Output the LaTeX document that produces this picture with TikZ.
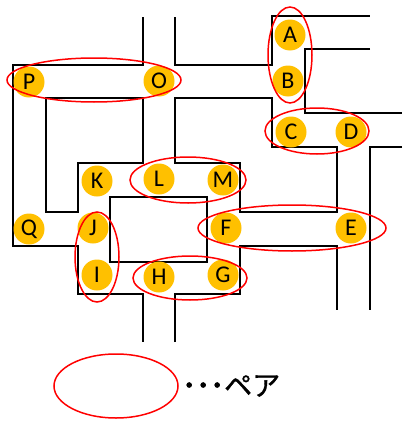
\documentclass[tikz,border=0pt]{standalone}
\usepackage{fontspec}
\setmainfont{Carlito}
\newfontfamily\jpfont[FakeBold=1.2]{Noto Sans CJK JP}
\newfontfamily\jpdots[FakeBold=3]{Noto Sans CJK JP}
\usetikzlibrary{shapes.geometric}
\definecolor{gold}{HTML}{FFC000}
\definecolor{pairred}{HTML}{FF0000}
\begin{document}
\begin{tikzpicture}[x=1pt,y=-1pt,
  wall/.style={line width=1.6pt, black, line join=miter},
  spot/.style={circle, fill=gold, minimum size=31pt, inner sep=0pt,
    font=\fontsize{24}{24}\selectfont},
  pair/.style={draw=pairred, line width=1.5pt}]
\useasboundingbox (0,0) rectangle (402,423);

% corridor walls
\draw[wall] (143,17) -- (143,65) -- (13,65) -- (13,246) -- (78,246) -- (78,294) -- (143,294) -- (143,342);
\draw[wall] (46,98) -- (143,98) -- (143,163) -- (78,163) -- (78,212) -- (46,212) -- cycle;
\draw[wall] (175,17) -- (175,65) -- (272,65) -- (272,16) -- (370,16);
\draw[wall] (175,98) -- (272,98) -- (272,147) -- (337,147) -- (337,212) -- (240,212) -- (240,163) -- (175,163) -- cycle;
\draw[wall] (370,49) -- (305,49) -- (305,113) -- (402,113);
\draw[wall] (402,147) -- (370,147) -- (370,310);
\draw[wall] (110,197) rectangle (207,262);
\draw[wall] (175,342) -- (175,294) -- (240,294) -- (240,246) -- (337,246) -- (337,310);

% labelled spots
\node[spot] (A) at (290,35) {A};
\node[spot] (B) at (288,81) {B};
\node[spot] (C) at (291,132) {C};
\node[spot] (D) at (351,132) {D};
\node[spot] (E) at (351,228) {E};
\node[spot] (F) at (226,228) {F};
\node[spot] (G) at (223,275) {G};
\node[spot] (H) at (159,277) {H};
\node[spot] (I) at (97,275) {I};
\node[spot] (J) at (93,228) {J};
\node[spot] (K) at (97,181) {K};
\node[spot] (L) at (159,179) {L};
\node[spot] (M) at (223,180) {M};
\node[spot] (O) at (159,81) {O};
\node[spot] (P) at (29,82) {P};
\node[spot] (Q) at (29,229) {Q};

% pairs
\draw[pair] (94,80) ellipse [x radius=87, y radius=22];
\draw[pair] (290,55) ellipse [x radius=22, y radius=48];
\draw[pair] (317,131) ellipse [x radius=52, y radius=23];
\draw[pair] (188,180) ellipse [x radius=58, y radius=23];
\draw[pair] (97,257) ellipse [x radius=22, y radius=45];
\draw[pair] (190,278) ellipse [x radius=57, y radius=22];
\draw[pair] (292,228) ellipse [x radius=94, y radius=23];

% legend
\draw[pair] (116,386) ellipse [x radius=62, y radius=32];
\node[anchor=west, inner sep=0pt, font=\fontsize{28}{28}\selectfont] (legend) at (182,386) {{\jpdots ･･･}{\jpfont ペア}};
\end{tikzpicture}
\end{document}
